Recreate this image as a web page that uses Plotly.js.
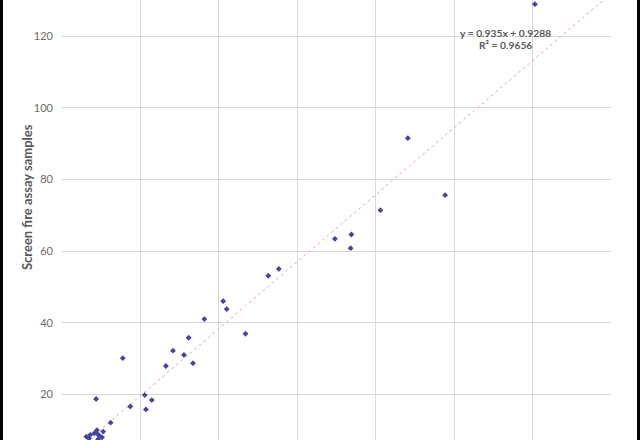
<!DOCTYPE html>
<html>
<head>
<meta charset="utf-8">
<script src="https://cdn.plot.ly/plotly-3.0.1.min.js"></script>
<style>
html,body{margin:0;padding:0;background:#fff;}
#chart{width:640px;height:440px;}
</style>
</head>
<body>
<div id="chart"></div>
<script>
// Fire assay (x) vs screen fire assay samples (y)
const fireAssay = [6.2, 6.9, 7.2, 8.2, 8.7, 8.9, 9.4, 9.2, 10.5, 10.2,
  8.7, 12.4, 15.5, 17.4, 21.1, 22.9, 21.4, 26.5, 28.3, 31.1, 32.3, 33.4,
  36.3, 41.1, 42.0, 46.8, 52.6, 55.3, 69.6, 73.8, 73.6, 81.2, 88.2, 97.7, 120.6];
const screenFireAssay = [8.2, 7.7, 8.7, 9.1, 9.3, 10.0, 8.6, 7.5, 9.6, 8.0,
  18.7, 12.1, 30.1, 16.6, 19.8, 18.4, 15.8, 27.9, 32.2, 31.0, 35.8, 28.7,
  41.0, 46.0, 43.8, 36.9, 53.1, 55.0, 63.4, 64.6, 60.8, 71.4, 91.5, 75.6, 128.9];
// Linear trendline shown on the chart
const trendSlope = 0.935;
const trendIntercept = 0.9288;
const trendX = [0, 140];
const trendY = trendX.map(v => trendSlope * v + trendIntercept);
const equationText = "y = 0.935x + 0.9288";
const r2Text = "R² = 0.9656";
const yTitle = "Screen fire assay samples";

const grey = '#595959';
const font = 'Lato, "Open Sans", sans-serif';

const traces = [
  {
    x: trendX, y: trendY, type: 'scatter', mode: 'lines',
    line: {color: '#F09A9A', width: 0.9, dash: 'dot'},
    hoverinfo: 'skip', showlegend: false
  },
  {
    x: fireAssay, y: screenFireAssay, type: 'scatter', mode: 'markers',
    marker: {symbol: 'diamond', size: 4.5, color: '#4444A6'},
    showlegend: false
  }
];

const layout = {
  width: 640, height: 440,
  margin: {l: 62, r: 29, t: 0, b: 0, pad: 0},
  paper_bgcolor: '#ffffff', plot_bgcolor: '#ffffff',
  font: {family: font, color: grey, size: 11},
  showlegend: false,
  xaxis: {
    range: [0, 140], dtick: 20, showgrid: true, gridcolor: '#D9D9D9', gridwidth: 1,
    zeroline: false, showline: false, showticklabels: false, ticks: ''
  },
  yaxis: {
    range: [7.26, 130.06], dtick: 20, tick0: 0, showgrid: true, gridcolor: '#D9D9D9', gridwidth: 1,
    zeroline: false, showline: false, ticks: '', ticklabelstandoff: 8,
    tickfont: {family: font, color: '#6A6A6A', size: 11}
  },
  annotations: [
    {text: '<b>' + yTitle + '</b>', xref: 'paper', yref: 'paper', x: -0.0638, y: 0.552,
     textangle: -90, showarrow: false, font: {family: font, size: 13, color: grey},
     xanchor: 'center', yanchor: 'middle'},
    {text: '<b>' + equationText + '</b>', xref: 'x', yref: 'y', x: 113.2, y: 120.9,
     showarrow: false, font: {family: font, size: 10.3, color: grey}, xanchor: 'center', yanchor: 'middle'},
    {text: '<b>' + r2Text + '</b>', xref: 'x', yref: 'y', x: 113.2, y: 117.4,
     showarrow: false, font: {family: font, size: 10.3, color: grey}, xanchor: 'center', yanchor: 'middle'}
  ],
  shapes: [
    {type: 'rect', xref: 'paper', yref: 'paper', x0: -0.1130, x1: -0.1075, y0: 0, y1: 1,
     fillcolor: '#000', line: {width: 0}, layer: 'above'},
    {type: 'rect', xref: 'paper', yref: 'paper', x0: 1.0474, x1: 1.0530, y0: 0, y1: 1,
     fillcolor: '#000', line: {width: 0}, layer: 'above'}
  ]
};

Plotly.newPlot('chart', traces, layout, {displayModeBar: false, staticPlot: true});
</script>
</body>
</html>
